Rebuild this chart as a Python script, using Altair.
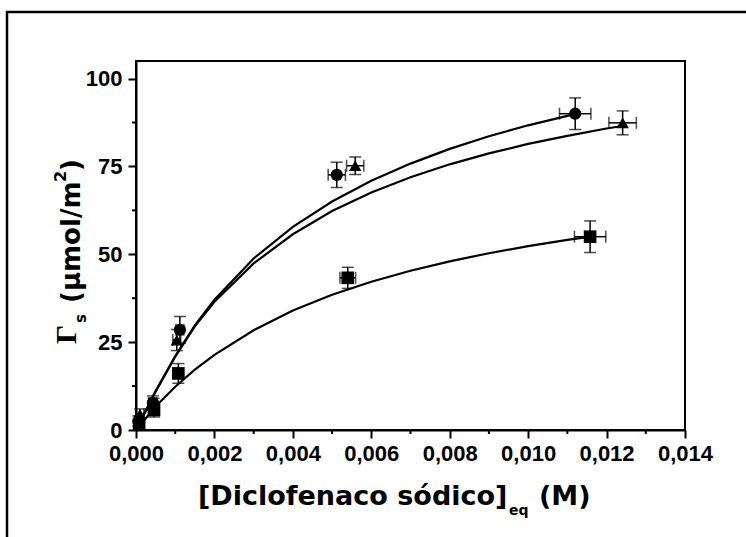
import altair as alt
import pandas as pd

# ---------------- data ----------------
series_names = ["circle", "triangle", "square"]

circ_x = [0.00006, 0.00043, 0.00112, 0.00512, 0.01120]
circ_y = [2.5, 7.7, 28.5, 72.6, 90.0]
circ_xerr = [0.0001, 0.0001, 0.0001, 0.00022, 0.0004]
circ_yerr = [1.5, 2.0, 3.8, 3.6, 4.5]

tri_x = [0.00010, 0.00045, 0.00104, 0.00559, 0.01241]
tri_y = [4.5, 7.0, 25.6, 75.2, 87.4]
tri_xerr = [0.0001, 0.0001, 0.0001, 0.00022, 0.00035]
tri_yerr = [1.5, 2.0, 3.0, 2.5, 3.4]

sq_x = [0.00008, 0.00046, 0.00108, 0.00540, 0.01158]
sq_y = [1.5, 5.7, 16.1, 43.3, 55.0]
sq_xerr = [0.0001, 0.0001, 0.0001, 0.0002, 0.0004]
sq_yerr = [1.5, 2.0, 2.8, 3.0, 4.5]

curve_circ_x = [0, 0.0005, 0.001, 0.0015, 0.002, 0.003, 0.004, 0.005, 0.006, 0.007, 0.008, 0.009, 0.010, 0.011, 0.0112]
curve_circ_y = [0, 11.0, 21.0, 29.8, 37.1, 48.8, 57.8, 65.0, 70.9, 75.8, 80.0, 83.6, 86.7, 89.4, 90.0]
curve_tri_x = [0, 0.0005, 0.001, 0.0015, 0.002, 0.003, 0.004, 0.005, 0.006, 0.007, 0.008, 0.009, 0.010, 0.011, 0.012, 0.0124]
curve_tri_y = [0, 11.0, 20.9, 29.5, 36.5, 47.4, 55.7, 62.3, 67.6, 71.9, 75.6, 78.7, 81.4, 83.7, 85.8, 86.5]
curve_sq_x = [0, 0.0005, 0.001, 0.0015, 0.002, 0.003, 0.004, 0.005, 0.006, 0.007, 0.008, 0.009, 0.010, 0.011, 0.0116]
curve_sq_y = [0, 6.7, 12.3, 17.2, 21.4, 28.4, 34.0, 38.5, 42.2, 45.3, 48.0, 50.3, 52.3, 54.1, 55.0]

x_major = [0, 0.002, 0.004, 0.006, 0.008, 0.010, 0.012, 0.014]
x_minor = [0.001, 0.003, 0.005, 0.007, 0.009, 0.011, 0.013]
y_major = [0, 25, 50, 75, 100]
y_minor = [12.5, 37.5, 62.5, 87.5]

# ---------------- tables ----------------
pts = pd.concat([
    pd.DataFrame({"s": "circle", "x": circ_x, "y": circ_y, "xe": circ_xerr, "ye": circ_yerr}),
    pd.DataFrame({"s": "triangle", "x": tri_x, "y": tri_y, "xe": tri_xerr, "ye": tri_yerr}),
    pd.DataFrame({"s": "square", "x": sq_x, "y": sq_y, "xe": sq_xerr, "ye": sq_yerr}),
], ignore_index=True)
pts["ylo"] = pts["y"] - pts["ye"]
pts["yhi"] = pts["y"] + pts["ye"]
pts["xlo"] = pts["x"] - pts["xe"]
pts["xhi"] = pts["x"] + pts["xe"]

curves = pd.concat([
    pd.DataFrame({"s": "circle", "x": curve_circ_x, "y": curve_circ_y}),
    pd.DataFrame({"s": "triangle", "x": curve_tri_x, "y": curve_tri_y}),
    pd.DataFrame({"s": "square", "x": curve_sq_x, "y": curve_sq_y}),
], ignore_index=True)

W, H = 549, 369
xs = alt.Scale(domain=[0, 0.014], nice=False, zero=False)
ys = alt.Scale(domain=[0, 105], nice=False, zero=False)

LAB = "Liberation Sans"
TIT = "DejaVu Sans"

x_axis = alt.Axis(values=x_major, labelExpr="replace(format(datum.value, '.3f'), '.', ',')",
                  title=None, grid=False, tickSize=8, tickWidth=2, tickColor="black",
                  domainColor="black", domainWidth=2, labelFont=LAB, labelFontSize=22,
                  labelFontWeight="bold", labelColor="black", labelPadding=5, labelFlush=False)
y_axis = alt.Axis(values=y_major, format="d", title=None, grid=False, tickSize=8, tickWidth=2,
                  tickColor="black", domainColor="black", domainWidth=2, labelFont=LAB,
                  labelFontSize=22, labelFontWeight="bold", labelColor="black", labelPadding=6)

lines = alt.Chart(curves).mark_line(color="black", strokeWidth=2.2).encode(
    x=alt.X("x:Q", scale=xs, axis=x_axis),
    y=alt.Y("y:Q", scale=ys, axis=y_axis),
    detail="s:N",
    order="x:Q",
)

base = alt.Chart(pts)
ybar = base.mark_rule(color="black", strokeWidth=1.5).encode(
    x=alt.X("x:Q", scale=xs), y=alt.Y("ylo:Q", scale=ys), y2="yhi:Q")
xbar = base.mark_rule(color="black", strokeWidth=1.5).encode(
    y=alt.Y("y:Q", scale=ys), x=alt.X("xlo:Q", scale=xs), x2="xhi:Q")
ycap_lo = base.mark_tick(color="black", orient="horizontal", size=12, thickness=1.5).encode(
    x=alt.X("x:Q", scale=xs), y=alt.Y("ylo:Q", scale=ys))
ycap_hi = base.mark_tick(color="black", orient="horizontal", size=12, thickness=1.5).encode(
    x=alt.X("x:Q", scale=xs), y=alt.Y("yhi:Q", scale=ys))
xcap_lo = base.mark_tick(color="black", orient="vertical", size=12, thickness=1.5).encode(
    x=alt.X("xlo:Q", scale=xs), y=alt.Y("y:Q", scale=ys))
xcap_hi = base.mark_tick(color="black", orient="vertical", size=12, thickness=1.5).encode(
    x=alt.X("xhi:Q", scale=xs), y=alt.Y("y:Q", scale=ys))

marks = base.mark_point(filled=True, opacity=1, color="black").encode(
    x=alt.X("x:Q", scale=xs),
    y=alt.Y("y:Q", scale=ys),
    shape=alt.Shape("s:N", scale=alt.Scale(domain=series_names,
                                           range=["circle", "triangle-up", "square"]), legend=None),
    size=alt.Size("s:N", scale=alt.Scale(domain=series_names, range=[150, 160, 130]), legend=None),
)

xminor = alt.Chart(pd.DataFrame({"v": x_minor})).mark_rule(color="black", strokeWidth=2).encode(
    x=alt.X("v:Q", scale=xs), y=alt.value(H), y2=alt.value(H + 4))
yminor = alt.Chart(pd.DataFrame({"v": y_minor})).mark_rule(color="black", strokeWidth=2).encode(
    y=alt.Y("v:Q", scale=ys), x=alt.value(0), x2=alt.value(-4))

one = alt.Data(values=[{"k": 1}])
frame = alt.Chart(one).mark_rect(fill="transparent", stroke="black", strokeWidth=2.5).encode(
    x=alt.value(-129), x2=alt.value(700), y=alt.value(-49), y2=alt.value(560))

def txt(t, x, y, size, font=TIT, weight="bold", angle=0):
    return alt.Chart(one).mark_text(text=t, font=font, fontSize=size, fontWeight=weight,
                                    align="left", baseline="alphabetic", angle=angle,
                                    color="black").encode(x=alt.value(x), y=alt.value(y))

titles = [
    txt("[Diclofenaco sódico]", 62, 444, 27),
    txt("eq", 373, 454, 14),
    txt("(M)", 403, 444, 27),
    txt("Γ", -60, 283, 30, font="Liberation Serif", weight="bold", angle=270),
    txt("s", -50, 262, 15, angle=270),
    txt("(μmol/m", -56, 242, 26, angle=270),
    txt("2", -70, 121, 16, angle=270),
    txt(")", -56, 110, 26, angle=270),
]

chart = alt.layer(frame, lines, xminor, yminor, ybar, xbar, ycap_lo, ycap_hi, xcap_lo, xcap_hi,
                  marks, *titles).properties(
    width=W, height=H,
    autosize=alt.AutoSizeParams(type="none"),
    padding={"left": 136, "top": 61, "right": 61, "bottom": 107},
    background="white",
).configure_view(stroke="black", strokeWidth=2)

chart.save("out.html", embed_options={"renderer": "svg", "actions": False})
